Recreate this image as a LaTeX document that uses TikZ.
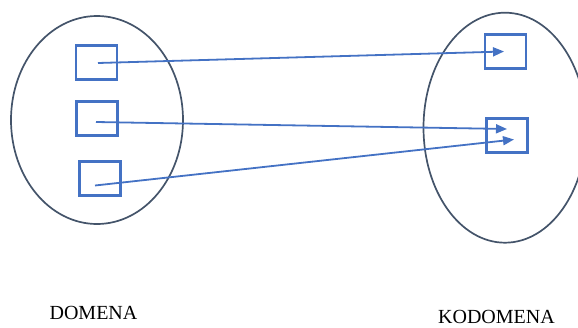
\documentclass[tikz,border=0pt]{standalone}
\usepackage{fontspec}
\setmainfont{Liberation Serif}
\usepackage{xcolor}
\usetikzlibrary{arrows.meta}
\definecolor{boxblue}{HTML}{4472C4}
\definecolor{ringgray}{HTML}{44546A}
\tikzset{
  elem/.style={draw=boxblue,line width=2.2pt,minimum width=41pt,minimum height=34pt,inner sep=0pt},
  ring/.style={draw=ringgray,line width=1.7pt},
  maps/.style={draw=boxblue,line width=1.8pt,-{Triangle[length=11pt,width=9pt]}},
  setname/.style={font=\fontsize{20}{23}\selectfont}
}
\begin{document}
\begin{tikzpicture}[x=1pt,y=-1pt]
\useasboundingbox (0,0) rectangle (578,327);
\draw[ring](97,120)ellipse[x radius=86pt,y radius=104pt];
\draw[ring](505,127.7)ellipse[x radius=81.5pt,y radius=115pt];
\node[elem](d1)at(96.5,62.5){};
\node[elem](d2)at(97,118.5){};
\node[elem](d3)at(100,178.5){};
\node[elem](k1)at(505.5,51.5){};
\node[elem](k2)at(507,135.5){};
\coordinate(s1)at(98,63);
\coordinate(s2)at(96,122);
\coordinate(s3)at(95,185.5);
\coordinate(t1)at(504,51.5);
\coordinate(t2)at(507,129);
\coordinate(t3)at(514,139.5);
\draw[maps](s1)--(t1);
\draw[maps](s2)--(t2);
\draw[maps](s3)--(t3);
\node[setname](dom)at(93.5,312.5){DOMENA};
\node[setname](kod)at(496.5,316.5){KODOMENA};
\end{tikzpicture}
\end{document}
